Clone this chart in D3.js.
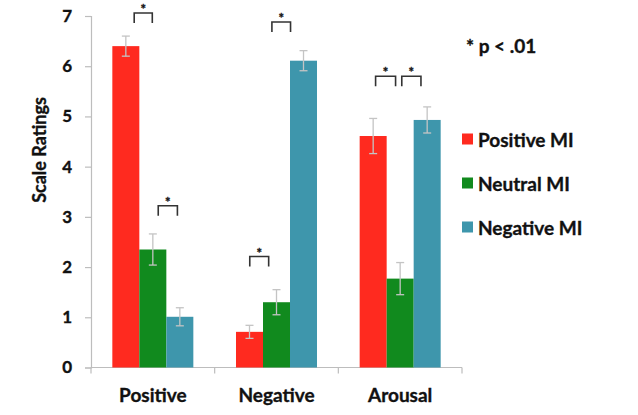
<!DOCTYPE html>
<html>
<head>
<meta charset="utf-8">
<script src="https://cdn.jsdelivr.net/npm/d3@7"></script>
<style>
  html, body { margin: 0; padding: 0; background: #fff; }
  svg { display: block; }
  text { font-family: Lato, "Open Sans", sans-serif; font-weight: bold; fill: #111; stroke: #111; stroke-width: 0.35px; }
</style>
</head>
<body>
<svg id="chart" width="638" height="415"></svg>
<script>
// ---- data ----
const categories = ["Positive", "Negative", "Arousal"];
const seriesNames = ["Positive MI", "Neutral MI", "Negative MI"];
const seriesColors = ["#FF2A1F", "#118A1E", "#3E96AC"];
const positiveMI = [6.40, 0.71, 4.61];
const neutralMI  = [2.35, 1.30, 1.77];
const negativeMI = [1.01, 6.11, 4.93];
const positiveErr = [0.20, 0.13, 0.35];
const neutralErr  = [0.31, 0.25, 0.32];
const negativeErr = [0.18, 0.20, 0.26];
const yTicks = [0, 1, 2, 3, 4, 5, 6, 7];
// significance brackets: category, start/end in bar units within group (0 = left of first bar), level (rating units)
const bracketCats  = ["Positive", "Positive", "Negative", "Negative", "Arousal", "Arousal"];
const bracketStart = [0.81, 1.70, 0.51, 1.33, 0.59, 1.56];
const bracketEnd   = [1.48, 2.41, 1.21, 2.02, 1.33, 2.27];
const bracketLevel = [7.06, 3.22, 2.21, 6.88, 5.80, 5.80];
const noteText = "* p < .01";
const yTitle = "Scale Ratings";

(function () {
const values = [positiveMI, neutralMI, negativeMI];
const errs = [positiveErr, neutralErr, negativeErr];

// ---- layout ----
const svg = d3.select("#chart");
const mLeft = 91, mRight = 462, mTop = 16, mBottom = 367.5;

const x = d3.scaleBand().domain(categories).range([mLeft, mRight]).paddingInner(0).paddingOuter(0);
const xs = d3.scaleBand().domain(seriesNames).range([0, x.bandwidth()]).paddingInner(0).paddingOuter(0.79);
const y = d3.scaleLinear().domain([0, 7]).range([mBottom, mTop]);
const barW = xs.bandwidth();
const barUnit = d3.scaleLinear().domain([0, 3]).range([xs(seriesNames[0]), xs(seriesNames[2]) + barW]);

const axisColor = "#bdbdbd";

// y axis
const yAxis = svg.append("g").attr("transform", `translate(${mLeft},0)`)
  .call(d3.axisLeft(y).tickValues(yTicks).tickSize(6).tickPadding(13).tickFormat(d3.format("d")));
yAxis.select(".domain").attr("stroke", axisColor).attr("stroke-width", 1.2);
yAxis.selectAll(".tick line").attr("stroke", axisColor).attr("stroke-width", 1.2);
yAxis.selectAll(".tick text").style("font-size", "17px").style("font-family", "Lato, sans-serif")
  .style("font-weight", "bold").attr("fill", "#111").attr("stroke", "#111").attr("stroke-width", 0.35);

// x axis line with boundary ticks
const xAxisG = svg.append("g");
xAxisG.append("line").attr("x1", mLeft).attr("x2", mRight).attr("y1", mBottom).attr("y2", mBottom)
  .attr("stroke", axisColor).attr("stroke-width", 1.2);
const boundaries = categories.map(c => x(c)).concat([x(categories[categories.length - 1]) + x.bandwidth()]);
xAxisG.selectAll(".bt").data(boundaries).join("line")
  .attr("x1", d => d).attr("x2", d => d).attr("y1", mBottom).attr("y2", mBottom + 6)
  .attr("stroke", axisColor).attr("stroke-width", 1.2);
xAxisG.selectAll(".cl").data(categories).join("text")
  .attr("x", d => x(d) + x.bandwidth() / 2).attr("y", mBottom + 34)
  .attr("text-anchor", "middle").style("font-size", "19px").text(d => d);

// bars
const bars = [];
seriesNames.forEach((s, si) => {
  categories.forEach((c, ci) => {
    bars.push({ s, si, c, v: values[si][ci], e: errs[si][ci] });
  });
});
svg.append("g").selectAll("rect").data(bars).join("rect")
  .attr("x", d => x(d.c) + xs(d.s))
  .attr("y", d => y(d.v))
  .attr("width", barW)
  .attr("height", d => y(0) - y(d.v))
  .attr("fill", d => seriesColors[d.si]);

// error bars
const eg = svg.append("g").attr("stroke", "#c4c4c4").attr("stroke-width", 1.3);
bars.forEach(d => {
  const cx = x(d.c) + xs(d.s) + barW / 2;
  eg.append("line").attr("x1", cx).attr("x2", cx).attr("y1", y(d.v + d.e)).attr("y2", y(d.v - d.e));
  eg.append("line").attr("x1", cx - 4).attr("x2", cx + 4).attr("y1", y(d.v + d.e)).attr("y2", y(d.v + d.e));
  eg.append("line").attr("x1", cx - 4).attr("x2", cx + 4).attr("y1", y(d.v - d.e)).attr("y2", y(d.v - d.e));
});

// significance brackets
const bg = svg.append("g");
bracketCats.forEach((c, i) => {
  const x0 = x(c) + barUnit(bracketStart[i]);
  const x1 = x(c) + barUnit(bracketEnd[i]);
  const yy = y(bracketLevel[i]);
  bg.append("path")
    .attr("d", `M${x0},${yy + 10}V${yy}H${x1}V${yy + 10}`)
    .attr("fill", "none").attr("stroke", "#333").attr("stroke-width", 1.6);
  bg.append("text").attr("x", (x0 + x1) / 2).attr("y", yy + 1)
    .attr("text-anchor", "middle").style("font-size", "13px").text("*");
});

// note
svg.append("text").attr("x", 466).attr("y", 53).style("font-size", "19px").text(noteText);

// legend
const lg = svg.append("g");
seriesNames.forEach((s, i) => {
  const ly = 146.5 + i * 44;
  lg.append("rect").attr("x", 462).attr("y", ly - 13).attr("width", 11).attr("height", 11).attr("fill", seriesColors[i]);
  lg.append("text").attr("x", 478).attr("y", ly).style("font-size", "19px").text(s);
});

// y title
svg.append("text").attr("transform", `translate(46,150) rotate(-90)`)
  .attr("text-anchor", "middle").style("font-size", "18px").text(yTitle);
})();
</script>
</body>
</html>
